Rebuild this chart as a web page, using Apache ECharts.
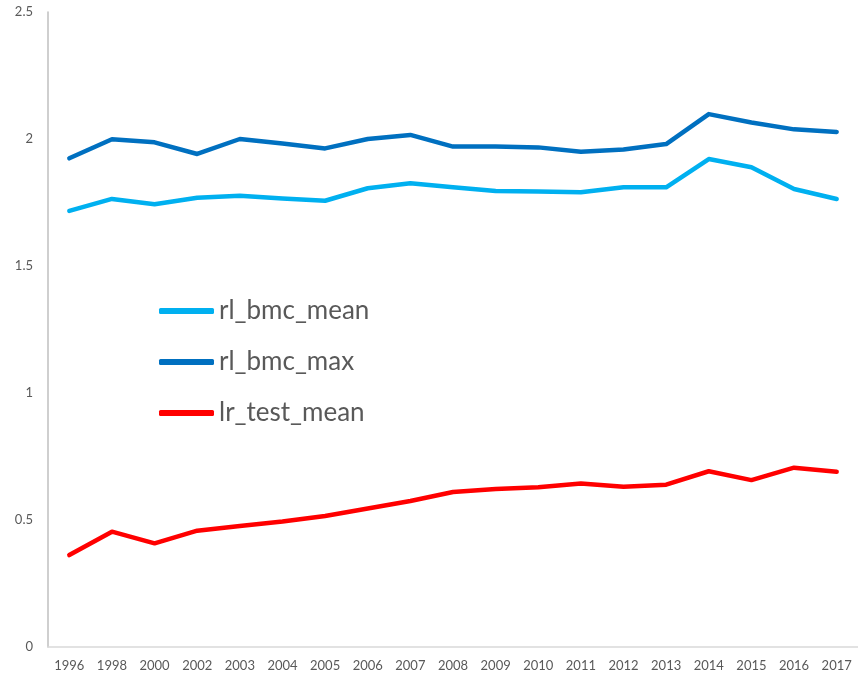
<!DOCTYPE html>
<html>
<head>
<meta charset="utf-8">
<script src="https://cdn.jsdelivr.net/npm/echarts@6/dist/echarts.min.js"></script>
<style>
  html, body { margin: 0; padding: 0; background: #fff; }
  #chart { width: 858px; height: 677px; }
</style>
</head>
<body>
<div id="chart"></div>
<script>
const years = ["1996", "1998", "2000", "2002", "2003", "2004", "2005", "2006", "2007", "2008",
  "2009", "2010", "2011", "2012", "2013", "2014", "2015", "2016", "2017"];

const rlBmcMean = [1.717, 1.764, 1.743, 1.769, 1.777, 1.766, 1.757, 1.806, 1.826, 1.810,
  1.795, 1.793, 1.790, 1.810, 1.810, 1.921, 1.889, 1.803, 1.764];
const rlBmcMax = [1.924, 1.999, 1.987, 1.941, 2.000, 1.982, 1.963, 2.000, 2.016, 1.970,
  1.970, 1.967, 1.950, 1.959, 1.980, 2.098, 2.065, 2.038, 2.028];
const lrTestMean = [0.362, 0.454, 0.408, 0.458, 0.476, 0.494, 0.516, 0.545, 0.575, 0.610,
  0.622, 0.629, 0.644, 0.631, 0.639, 0.692, 0.657, 0.706, 0.690];

const yTicks = [0, 0.5, 1, 1.5, 2, 2.5];

const names = ["rl_bmc_mean", "rl_bmc_max", "lr_test_mean"];
const colors = ["#00B0F0", "#0070C0", "#FF0000"];
const values = [rlBmcMean, rlBmcMax, lrTestMean];

const chart = echarts.init(document.getElementById("chart"));

chart.setOption({
  animation: false,
  textStyle: { fontFamily: "Lato" },
  grid: { left: 48, top: 12, width: 815, height: 635 },
  legend: {
    orient: "vertical",
    left: 154,
    top: 293,
    itemWidth: 55,
    itemHeight: 6,
    itemGap: 25,
    icon: "roundRect",
    data: names,
    textStyle: { fontSize: 26, color: "#595959", lineHeight: 26 }
  },
  xAxis: {
    type: "category",
    data: years,
    boundaryGap: true,
    axisLine: { lineStyle: { color: "#D9D9D9", width: 1.5 } },
    axisTick: { show: false },
    axisLabel: { fontSize: 13, color: "#595959", margin: 12, interval: 0 },
    splitLine: { show: false }
  },
  yAxis: {
    type: "value",
    min: yTicks[0],
    max: yTicks[yTicks.length - 1],
    interval: 0.5,
    axisLine: { show: true, lineStyle: { color: "#BFBFBF", width: 1.5 } },
    axisTick: { show: false },
    axisLabel: { fontSize: 13, color: "#595959", margin: 15 },
    splitLine: { show: false }
  },
  series: names.map((name, i) => ({
    name,
    type: "line",
    data: values[i],
    symbol: "none",
    color: colors[i],
    lineStyle: { width: 4.5, color: colors[i], cap: "round", join: "round" }
  }))
});
</script>
</body>
</html>
